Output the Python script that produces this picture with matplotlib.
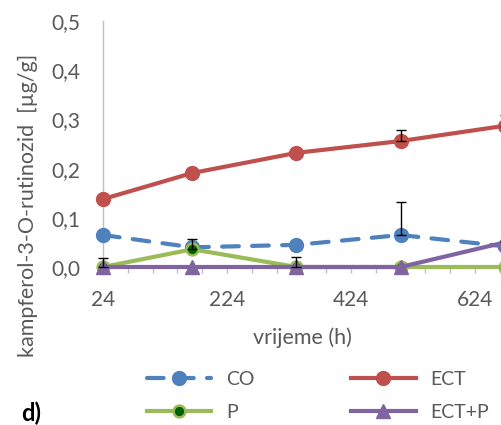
import matplotlib
matplotlib.use("Agg")
import matplotlib.pyplot as plt
from matplotlib.lines import Line2D

plt.rcParams['font.family'] = ['Lato', 'DejaVu Sans']

# ---- data ----
hours = [24, 168, 336, 504, 672]
co = [0.065, 0.040, 0.045, 0.065, 0.042]
co_err = [0.0, 0.0, 0.0, 0.068, 0.0]
ect = [0.138, 0.191, 0.232, 0.256, 0.287]
ect_err = [0.0, 0.0, 0.0, 0.022, 0.022]
p = [0.0, 0.036, 0.0, 0.0, 0.0]
p_err = [0.018, 0.021, 0.020, 0.0, 0.0]
ectp = [0.0, 0.0, 0.0, 0.0, 0.050]
ectp_err = [0.0, 0.0, 0.0, 0.0, 0.004]

xticks = [24, 224, 424, 624]
yticks = [0.0, 0.1, 0.2, 0.3, 0.4, 0.5]
ytick_labels = ["0,0", "0,1", "0,2", "0,3", "0,4", "0,5"]

W, H = 501, 425
fig = plt.figure(figsize=(W / 100, H / 100), dpi=100)

# axes geometry (pixels)
x0_px, y_top_px, y_bot_px = 103, 21, 267
px_per_unit = 0.62
xmax = 700
ax_w_px = (xmax - 24) * px_per_unit
ax = fig.add_axes([x0_px / W, 1 - y_bot_px / H, ax_w_px / W, (y_bot_px - y_top_px) / H])
ax.set_xlim(24, xmax)
ax.set_ylim(0, 0.5)

text_col = "#595959"
c_co = "#4F81BD"
c_ect = "#C0504D"
c_p = "#9BBB59"
c_pface = "#006100"
c_ectp = "#8064A2"

lw = 3.0
ms = 10
fs = 15

ax.plot(hours, co, color=c_co, lw=lw, dashes=(4.0, 3.2), dash_capstyle='round',
        marker='o', ms=ms, mfc=c_co, mec=c_co, zorder=3, clip_on=False)
ax.plot(hours, ect, color=c_ect, lw=lw, marker='o', ms=ms, mfc=c_ect, mec=c_ect,
        zorder=3, clip_on=False)
ax.plot(hours, p, color=c_p, lw=lw, marker='o', ms=8.5, mfc=c_pface, mec=c_p, mew=1.8,
        zorder=4, clip_on=False)
ax.plot(hours, ectp, color=c_ectp, lw=lw, marker='^', ms=10.5, mfc=c_ectp, mec=c_ectp,
        zorder=5, clip_on=False)

for vals, errs in [(co, co_err), (ect, ect_err), (p, p_err), (ectp, ectp_err)]:
    xs = [h for h, e in zip(hours, errs) if e > 0]
    ys = [v for v, e in zip(vals, errs) if e > 0]
    es = [e for e in errs if e > 0]
    ax.errorbar(xs, ys, yerr=[[0] * len(es), es], fmt='none', ecolor='black',
                elinewidth=1.0, capsize=3.5, capthick=1.0, zorder=6, clip_on=False)

# spines
for s in ['top', 'right']:
    ax.spines[s].set_visible(False)
ax.spines['left'].set_color('#BFBFBF')
ax.spines['bottom'].set_color('#BFBFBF')
ax.spines['left'].set_linewidth(1.0)
ax.spines['bottom'].set_linewidth(1.0)

ax.set_xticks(xticks)
ax.set_xticks(list(range(24, xmax, 40)), minor=True)
ax.set_yticks(yticks)
ax.set_yticklabels(ytick_labels)
ax.tick_params(axis='x', which='both', direction='out', length=4, width=1,
               color='#BFBFBF', labelsize=fs, labelcolor=text_col, pad=12.5)
ax.tick_params(axis='y', length=0, labelsize=fs, labelcolor=text_col, pad=16)

fig.text(302 / W, 1 - 338 / H, "vrijeme (h)", ha='center', va='center',
         fontsize=fs + 0.5, color=text_col)
fig.text(28 / W, 1 - 205 / H, "kampferol-3-O-rutinozid  [µg/g]", ha='center',
         va='center', rotation=90, fontsize=fs + 0.5, color=text_col)
fig.text(21 / W, 1 - 413 / H, "d)", ha='left', va='center', fontsize=17,
         fontweight='bold', color='black')

h_co = Line2D([], [], color=c_co, lw=lw, dashes=(4.0, 3.2), dash_capstyle='round',
              marker='o', ms=ms, mfc=c_co, mec=c_co)
h_ect = Line2D([], [], color=c_ect, lw=lw, marker='o', ms=ms, mfc=c_ect, mec=c_ect)
h_p = Line2D([], [], color=c_p, lw=lw, marker='o', ms=8.5, mfc=c_pface, mec=c_p, mew=1.8)
h_ectp = Line2D([], [], color=c_ectp, lw=lw, marker='^', ms=10.5, mfc=c_ectp, mec=c_ectp)
# column-major order for 2 columns: (CO, P) | (ECT, ECT+P)
lfs = 14
leg = fig.legend([h_co, h_p, h_ect, h_ectp], ['CO', 'P', 'ECT', 'ECT+P'], ncol=2,
                 loc='center left', bbox_to_anchor=(147 / W, 1 - 396 / H), frameon=False,
                 fontsize=lfs, handlelength=3.3, handletextpad=0.75,
                 columnspacing=5.0, labelspacing=0.8, borderpad=0, borderaxespad=0)
for t in leg.get_texts():
    t.set_color(text_col)

fig.savefig("out.png", dpi=100)
